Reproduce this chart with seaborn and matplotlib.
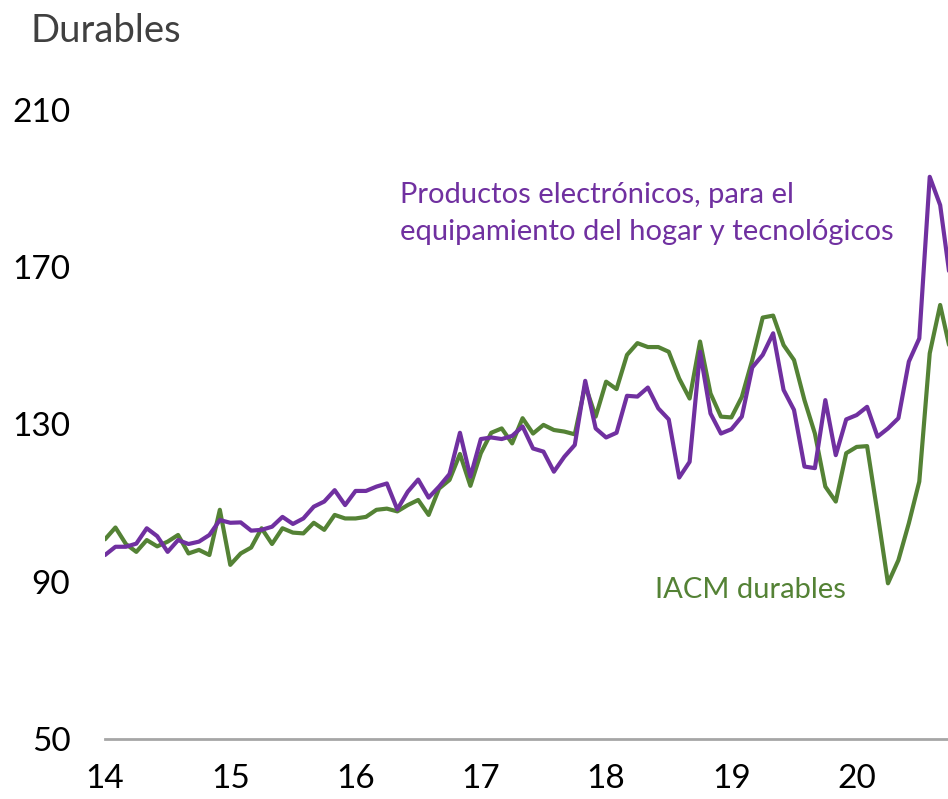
import numpy as np
import pandas as pd
import matplotlib
matplotlib.use("Agg")
import matplotlib.pyplot as plt
import seaborn as sns

# Monthly series, Jan 2014 onwards (index, 2014 = 100 approx.)
iacm_durables = [
    100.8, 103.8, 99.6, 97.6, 100.6, 99.0, 100.2, 101.9, 97.2, 98.1, 96.8, 108.3,
    94.3, 97.2, 98.7, 103.6, 99.6, 103.6, 102.5, 102.3, 105.0, 103.2, 107.0, 106.1,
    106.1, 106.5, 108.3, 108.6, 107.9, 109.5, 110.8, 107.0, 113.7, 115.9, 122.5, 114.4,
    122.7, 127.9, 129.0, 125.2, 131.6, 127.7, 129.9, 128.6, 128.2, 127.5, 140.0, 132.0,
    140.9, 139.0, 147.7, 150.7, 149.7, 149.7, 148.5, 141.7, 136.6, 151.1, 137.9, 132.0,
    131.8, 137.0, 146.4, 157.2, 157.7, 150.2, 146.4, 136.2, 127.7, 114.2, 110.4, 122.7,
    124.3, 124.5, 107.4, 89.6, 95.5, 104.9, 115.5, 148.1, 160.4, 148.4,
]
electronicos = [
    96.8, 98.9, 98.9, 99.7, 103.6, 101.6, 97.6, 100.6, 99.6, 100.2, 101.9, 105.7,
    105.0, 105.1, 103.0, 103.2, 104.0, 106.5, 104.7, 106.1, 109.1, 110.4, 113.3, 109.5,
    113.1, 113.1, 114.2, 115.0, 108.4, 112.9, 116.0, 111.4, 114.2, 117.4, 127.9, 116.7,
    126.3, 126.7, 126.3, 127.1, 129.5, 123.9, 123.1, 118.0, 121.8, 124.8, 141.1, 129.0,
    126.7, 127.9, 137.3, 137.1, 139.4, 134.1, 131.3, 116.5, 120.5, 148.5, 132.8, 127.7,
    128.8, 132.0, 144.5, 147.7, 153.2, 138.8, 133.7, 119.3, 118.9, 136.2, 122.2, 131.3,
    132.4, 134.5, 126.9, 129.0, 131.6, 146.0, 151.9, 193.0, 185.8, 166.0,
]
year_ticks = [14, 15, 16, 17, 18, 19, 20]
y_ticks = [50, 90, 130, 170, 210]

# Build a long table for seaborn
t = 14 + np.arange(len(iacm_durables)) / 12
df = pd.concat([
    pd.DataFrame({"t": t, "valor": iacm_durables, "serie": "IACM durables"}),
    pd.DataFrame({"t": t, "valor": electronicos, "serie": "Electronicos"}),
])

sns.set_style("white")
plt.rcParams["font.family"] = ["Lato", "DejaVu Sans"]

W, H = 948, 799
fig = plt.figure(figsize=(W / 100, H / 100), dpi=100)
ax = fig.add_axes([105 / W, 1 - 739 / H, 1 - 105 / W, (739 - 110) / H])

colors = {"IACM durables": "#548235", "Electronicos": "#7030A0"}
sns.lineplot(data=df, x="t", y="valor", hue="serie", palette=colors,
             linewidth=3.0, legend=False, ax=ax)

ax.set_xlim(14, 14 + 80.75 / 12)
ax.set_ylim(50, 210)
ax.set_xticks(year_ticks)
ax.set_xticklabels([str(y) for y in year_ticks])
ax.set_yticks(y_ticks)
ax.set_xlabel("")
ax.set_ylabel("")

for side in ["top", "right", "left"]:
    ax.spines[side].set_visible(False)
ax.spines["bottom"].set_color("#A6A6A6")
ax.spines["bottom"].set_linewidth(2.0)
ax.tick_params(axis="x", direction="out", length=7, width=2.0, color="#A6A6A6",
               labelsize=24, pad=11, labelcolor="black")
ax.tick_params(axis="y", length=0, labelsize=24, pad=25, labelcolor="black")

fig.text(30 / W, 1 - 42 / H, "Durables", fontsize=27.5, color="#404040",
         ha="left", va="baseline")
fig.text(400 / W, 1 - 203 / H, "Productos electrónicos, para el", fontsize=21,
         color="#7030A0", ha="left", va="baseline")
fig.text(400 / W, 1 - 240 / H, "equipamiento del hogar y tecnológicos", fontsize=21,
         color="#7030A0", ha="left", va="baseline")
fig.text(655 / W, 1 - 598 / H, "IACM durables", fontsize=21, color="#548235",
         ha="left", va="baseline")

fig.savefig("out.png", dpi=100)
